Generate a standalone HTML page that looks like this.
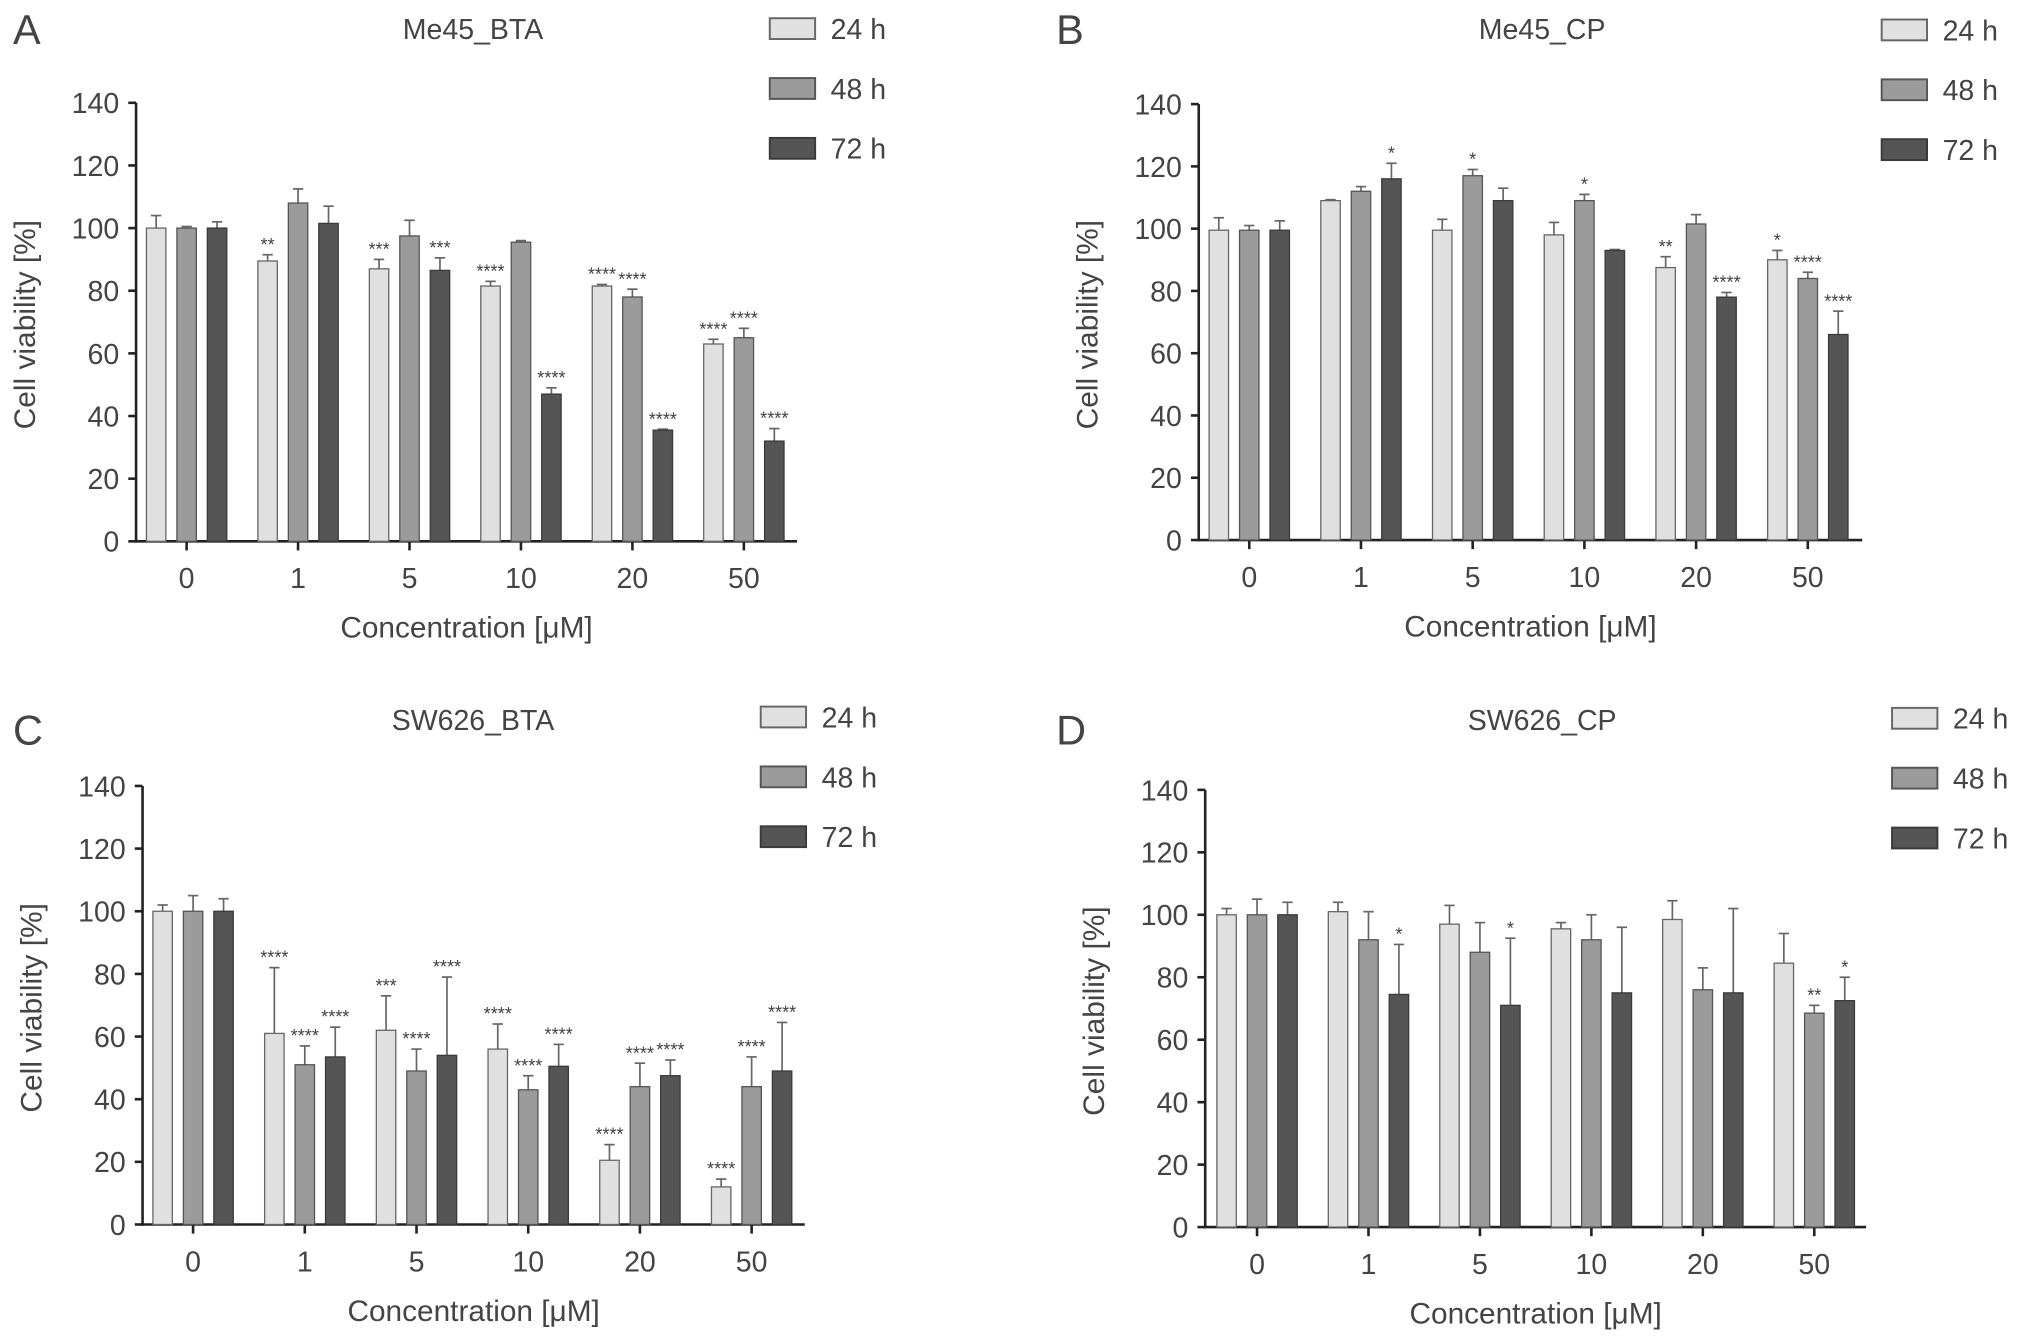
<!DOCTYPE html>
<html><head><meta charset="utf-8"><style>
html,body{margin:0;padding:0;background:#fff;width:2032px;height:1339px;overflow:hidden}
svg{display:block}
text{font-family:"Liberation Sans",sans-serif;fill:#444}
</style></head><body>
<svg id="fig" width="2032" height="1339" viewBox="0 0 1568 1029" preserveAspectRatio="none" xmlns="http://www.w3.org/2000/svg"></svg>
<script>
const categories = ["0","1","5","10","20","50"];
const seriesNames = ["24 h","48 h","72 h"];
const yTicks = [0,20,40,60,80,100,120,140];
// Panel A: Me45_BTA
const a24 = [100,89.5,87,81.5,81.5,63];
const a48 = [100,108,97.5,95.5,78,65];
const a72 = [100,101.5,86.5,47,35.5,32];
const a24e = [4,2,3,1.5,0.5,1.5];
const a48e = [0.5,4.5,5,0.5,2.5,3];
const a72e = [2,5.5,4,2,0.3,4];
const a24s = ["","**","***","****","****","****"];
const a48s = ["","","","","****","****"];
const a72s = ["","","***","****","****","****"];
// Panel B: Me45_CP
const b24 = [99.5,109,99.5,98,87.5,90];
const b48 = [99.5,112,117,109,101.5,84];
const b72 = [99.5,116,109,93,78,66];
const b24e = [4,0.3,3.5,4,3.5,3];
const b48e = [1.5,1.5,2,2,3,2];
const b72e = [3,5,4,0.3,1.5,7.5];
const b24s = ["","","","","**","*"];
const b48s = ["","","*","*","","****"];
const b72s = ["","*","","","****","****"];
// Panel C: SW626_BTA
const c24 = [100,61,62,56,20.5,12];
const c48 = [100,51,49,43,44,44];
const c72 = [100,53.5,54,50.5,47.5,49];
const c24e = [2,21,11,8,5,2.5];
const c48e = [5,6,7,4.5,7.5,9.5];
const c72e = [4,9.5,25,7,5,15.5];
const c24s = ["","****","***","****","****","****"];
const c48s = ["","****","****","****","****","****"];
const c72s = ["","****","****","****","****","****"];
// Panel D: SW626_CP
const d24 = [100,101,97,95.5,98.5,84.5];
const d48 = [100,92,88,92,76,68.5];
const d72 = [100,74.5,71,75,75,72.5];
const d24e = [2,3,6,2,6,9.5];
const d48e = [5,9,9.5,8,7,2.5];
const d72e = [4,16,21.5,21,27,7.5];
const d24s = ["","","","","",""];
const d48s = ["","","","","","**"];
const d72s = ["","*","*","","","*"];

const fills = ["#e0e0e0","#9b9b9b","#555555"];
const strokes = ["#666","#555","#3a3a3a"];
const NS = "http://www.w3.org/2000/svg";
const svg = document.getElementById("fig");
function el(tag, attrs, parent, txt){
  const e = document.createElementNS(NS, tag);
  for (const k in attrs) e.setAttribute(k, attrs[k]);
  if (txt !== undefined) e.textContent = txt;
  parent.appendChild(e);
  return e;
}
function panel(cfg){
  const g = el("g", {}, svg);
  
  
  const y = v => cfg.y0 - (v/140)*(cfg.y0 - cfg.y140);
  const x = i => cfg.gx0 + i*cfg.gs;
  const lt = el("text", {x: cfg.lx, y: cfg.ly, "font-size": 32, fill:"#333"}, g, cfg.letter);
  
  
  const tt = el("text", {x: cfg.tx, y: cfg.ty, "font-size": 22, "text-anchor":"middle"}, g, cfg.title);
  
  
  // axes
  const ya = el("line", {x1: cfg.ax, y1: cfg.y140, x2: cfg.ax, y2: cfg.y0+1, stroke:"#222", "stroke-width":2}, g);
  
  
  const xa = el("line", {x1: cfg.ax-1, y1: cfg.y0, x2: cfg.xend, y2: cfg.y0, stroke:"#222", "stroke-width":2}, g);
  
  
  yTicks.forEach(t => {
    el("line", {x1: cfg.ax-6, y1: y(t), x2: cfg.ax, y2: y(t), stroke:"#222", "stroke-width":2}, g);
    const tl = el("text", {x: cfg.ax-13, y: y(t)+8, "font-size": 22, "text-anchor":"end"}, g, String(t));
    
    
  });
  categories.forEach((c,i) => {
    el("line", {x1: x(i), y1: cfg.y0, x2: x(i), y2: cfg.y0+7, stroke:"#222", "stroke-width":2}, g);
    const cl = el("text", {x: x(i), y: cfg.y0+36, "font-size": 22, "text-anchor":"middle"}, g, c);
    
    
  });
  const yt = el("text", {x: 0, y: 0, "font-size": 23, "text-anchor":"middle", transform:`translate(${cfg.ax-78},${(cfg.y0+cfg.y140)/2+2}) rotate(-90)`}, g, "Cell viability [%]");
  
  
  const xt = el("text", {x: (cfg.ax+cfg.xend)/2, y: cfg.y0+74, "font-size": 23, "text-anchor":"middle"}, g, "Concentration [\u03bcM]");
  
  
  const bw = 15, off = 23.5;
  cfg.vals.forEach((arr, s) => {
    arr.forEach((v, i) => {
      const cx = x(i) + (s-1)*off;
      const top = y(v + cfg.errs[s][i]);
      el("line", {x1: cx, y1: y(v), x2: cx, y2: top, stroke:"#666", "stroke-width":1.3}, g);
      el("line", {x1: cx-4, y1: top, x2: cx+4, y2: top, stroke:"#666", "stroke-width":1.3}, g);
      const r = el("rect", {x: cx-bw/2, y: y(v), width: bw, height: cfg.y0 - y(v), fill: fills[s], stroke: strokes[s], "stroke-width":1}, g);
      
      
      const st = cfg.stars[s][i];
      if (st) {
        const sl = el("text", {x: cx, y: top-3, "font-size": 14, "text-anchor":"middle", fill:"#555"}, g, st);
        
        
      }
    });
  });
  seriesNames.forEach((n, s) => {
    const ly = cfg.legY + s*46;
    const lr = el("rect", {x: cfg.legX, y: ly-8, width: 35, height: 16, fill: fills[s], stroke: strokes[s], "stroke-width":1.5}, g);
    
    
    const ltx = el("text", {x: cfg.legX+47, y: ly+8, "font-size": 22}, g, n);
    
    
  });
}
panel({letter:"A", lx:10, ly:34, title:"Me45_BTA", tx:365, ty:30, ax:105, y0:416, y140:79, gx0:144, gs:86, xend:615, legX:594, legY:22,
  vals:[a24,a48,a72], errs:[a24e,a48e,a72e], stars:[a24s,a48s,a72s]});
panel({letter:"B", lx:815, ly:34, title:"Me45_CP", tx:1190, ty:30, ax:925, y0:415, y140:80, gx0:964, gs:86.2, xend:1437, legX:1452, legY:23,
  vals:[b24,b48,b72], errs:[b24e,b48e,b72e], stars:[b24s,b48s,b72s]});
panel({letter:"C", lx:10, ly:572, title:"SW626_BTA", tx:365, ty:561, ax:110, y0:941, y140:604, gx0:149, gs:86.2, xend:621, legX:587, legY:551,
  vals:[c24,c48,c72], errs:[c24e,c48e,c72e], stars:[c24s,c48s,c72s]});
panel({letter:"D", lx:815, ly:572, title:"SW626_CP", tx:1190, ty:561, ax:930, y0:943, y140:607, gx0:970, gs:86, xend:1440, legX:1460, legY:552,
  vals:[d24,d48,d72], errs:[d24e,d48e,d72e], stars:[d24s,d48s,d72s]});
</script>
</body></html>
